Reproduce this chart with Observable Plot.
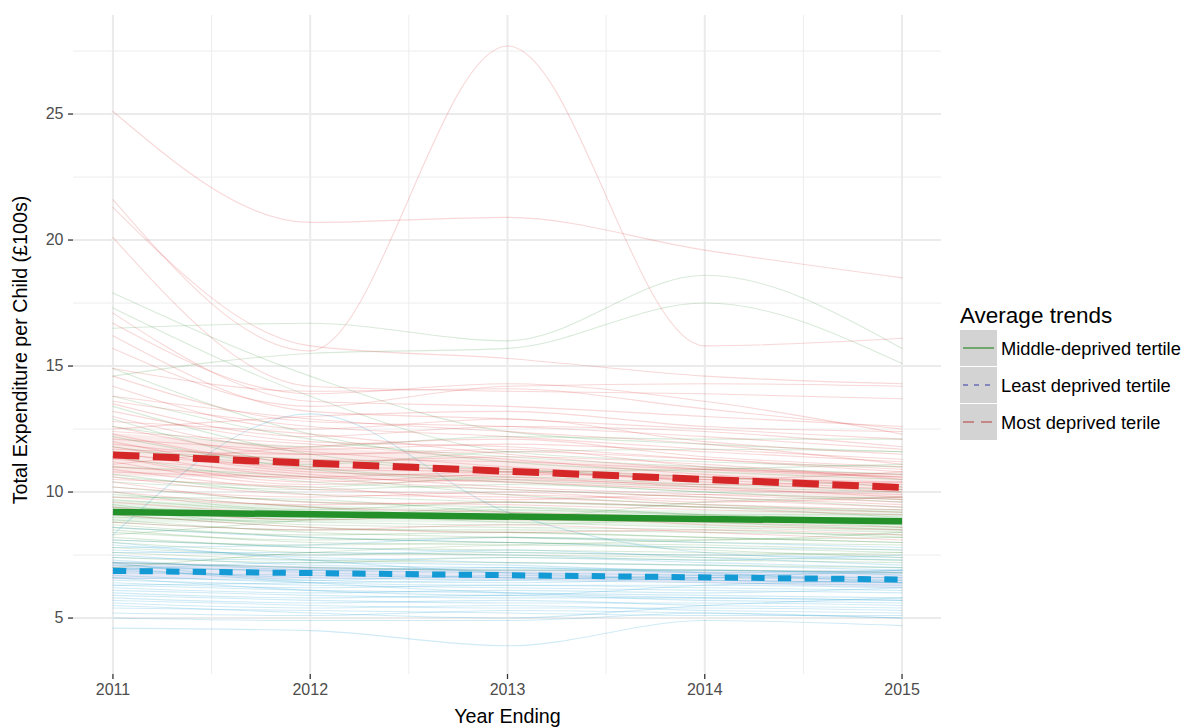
<!DOCTYPE html>
<html>
<head>
<meta charset="utf-8">
<script src="https://cdn.jsdelivr.net/npm/d3@7"></script>
<script src="https://cdn.jsdelivr.net/npm/@observablehq/plot@0.6"></script>
<style>
  html, body { margin: 0; padding: 0; background: #fff; }
  #wrap { position: relative; width: 1190px; height: 727px; font-family: "Liberation Sans", Arial, Helvetica, sans-serif; }
  #chart { position: absolute; left: 0; top: 0; }
  #legend { position: absolute; left: 0; top: 0; }
</style>
</head>
<body>
<div id="wrap">
  <div id="chart"></div>
  <svg id="legend" width="1190" height="727" style="pointer-events:none"></svg>
</div>
<script>
// ---- Data ----
const years = [2011, 2012, 2013, 2014, 2015];
const xTicks = [2011, 2012, 2013, 2014, 2015];
const yTicks = [5, 10, 15, 20, 25];
const xMinor = [2011.5, 2012.5, 2013.5, 2014.5];
const yMinor = [7.5, 12.5, 17.5, 22.5, 27.5];

// Most deprived tertile: per-authority values 2011..2015
const mostLines = [
  [25.1, 20.7, 20.9, 19.6, 18.5],
  [21.6, 15.6, 27.7, 15.8, 16.1],
  [21.3, 15.8, 15.3, 14.6, 14.3],
  [20.1, 14.2, 14.0, 13.9, 13.7],
  [17.1, 13.6, 13.4, 13.0, 12.6],
  [16.7, 13.9, 14.3, 13.6, 12.3],
  [16.2, 13.2, 12.9, 12.5, 12.1],
  [15.7, 13.4, 14.2, 14.3, 14.2],
  [14.9, 14.0, 14.1, 13.3, 12.5],
  [14.6, 12.8, 12.6, 12.2, 11.7],
  [14.2, 12.5, 12.9, 12.0, 11.5],
  [13.8, 12.9, 12.4, 11.9, 11.1],
  [13.5, 12.2, 12.6, 12.4, 11.8],
  [13.2, 12.0, 11.8, 11.3, 10.8],
  [13.0, 11.7, 11.9, 11.6, 11.2],
  [12.8, 12.3, 11.5, 10.9, 10.6],
  [12.6, 11.5, 11.6, 11.3, 10.9],
  [12.4, 11.9, 11.3, 10.7, 10.3],
  [12.3, 11.2, 11.4, 11.1, 10.5],
  [12.1, 11.6, 11.0, 10.6, 10.4],
  [12.0, 10.9, 10.8, 10.5, 10.1],
  [11.9, 11.3, 11.2, 10.9, 10.7],
  [11.8, 10.8, 10.6, 10.2, 9.8],
  [11.7, 11.5, 11.7, 11.0, 10.6],
  [11.6, 10.6, 10.4, 10.1, 9.9],
  [11.5, 11.0, 10.9, 10.4, 10.0],
  [11.4, 10.4, 10.7, 10.6, 10.2],
  [11.3, 10.7, 10.2, 9.9, 9.6],
  [11.2, 10.3, 10.5, 10.3, 10.4],
  [11.0, 10.5, 10.1, 9.8, 9.5],
  [10.9, 10.1, 9.9, 9.7, 9.4],
  [10.8, 10.6, 10.8, 10.5, 10.8],
  [10.6, 9.9, 9.8, 9.5, 9.3],
  [10.5, 10.2, 9.7, 9.9, 9.7],
  [10.4, 9.6, 9.5, 9.3, 9.1],
  [10.2, 9.8, 10.0, 9.6, 9.8],
  [10.0, 9.4, 9.2, 9.0, 8.8],
  [9.8, 9.5, 9.6, 9.4, 9.2],
  [9.6, 9.1, 8.9, 8.8, 8.6],
  [9.4, 8.9, 9.1, 8.7, 8.5],
  [9.1, 8.6, 8.4, 8.5, 8.3],
  [8.8, 8.5, 8.7, 8.4, 8.1],
  [12.5, 13.0, 13.2, 12.6, 12.4],
  [11.1, 11.8, 12.1, 11.4, 11.0],
  [13.6, 12.6, 12.2, 11.7, 11.3]
];

// Middle-deprived tertile
const middleLines = [
  [17.9, 14.6, 12.4, 11.9, 11.6],
  [17.3, 13.8, 11.6, 11.2, 11.0],
  [16.5, 16.7, 16.0, 18.6, 15.7],
  [14.6, 15.5, 15.7, 17.5, 15.1],
  [14.9, 12.3, 11.2, 10.8, 10.5],
  [13.4, 11.5, 10.9, 10.6, 10.2],
  [12.6, 11.8, 12.2, 12.1, 12.1],
  [12.2, 10.9, 10.4, 10.0, 9.7],
  [11.8, 11.1, 11.6, 11.7, 11.6],
  [11.4, 10.4, 10.1, 9.8, 9.4],
  [11.0, 10.6, 9.9, 9.5, 9.2],
  [10.7, 9.9, 9.6, 9.4, 9.3],
  [10.4, 10.1, 10.3, 10.0, 9.6],
  [10.2, 9.6, 9.4, 9.1, 8.9],
  [10.0, 9.3, 9.6, 9.4, 9.0],
  [9.8, 9.7, 9.2, 8.9, 8.7],
  [9.7, 9.2, 9.0, 8.8, 8.5],
  [9.5, 8.9, 9.1, 8.9, 8.8],
  [9.4, 9.1, 8.8, 8.6, 8.4],
  [9.3, 8.7, 8.6, 8.5, 8.2],
  [9.2, 9.0, 9.3, 9.1, 9.1],
  [9.1, 8.6, 8.4, 8.2, 8.0],
  [9.0, 8.8, 8.7, 8.9, 8.6],
  [8.9, 8.4, 8.2, 8.0, 7.9],
  [8.8, 8.5, 8.5, 8.4, 8.3],
  [8.7, 8.2, 8.0, 7.9, 7.7],
  [8.6, 8.3, 8.4, 8.2, 8.0],
  [8.5, 8.0, 7.9, 7.8, 7.6],
  [8.4, 8.1, 8.2, 8.1, 8.4],
  [8.2, 7.8, 7.7, 7.6, 7.5],
  [8.1, 7.9, 8.0, 7.7, 7.4],
  [8.0, 7.6, 7.5, 7.4, 7.3],
  [7.8, 7.5, 7.6, 7.5, 7.6],
  [7.6, 7.3, 7.2, 7.1, 7.0],
  [7.4, 7.2, 7.4, 7.3, 7.2],
  [7.2, 7.0, 6.9, 6.9, 6.8],
  [11.6, 11.3, 10.8, 10.9, 11.1],
  [10.6, 10.2, 10.6, 10.3, 10.1],
  [9.9, 9.4, 9.0, 9.6, 9.8],
  [12.9, 11.0, 10.5, 10.2, 10.0],
  [8.3, 8.9, 9.4, 9.1, 8.8],
  [7.0, 7.6, 7.9, 8.1, 8.2],
  [13.8, 12.1, 11.4, 11.0, 10.7]
];

// Least deprived tertile
const leastLines = [
  [8.6, 8.2, 8.0, 7.8, 7.7],
  [8.3, 13.1, 9.2, 7.6, 7.3],
  [8.1, 7.8, 7.6, 7.5, 7.4],
  [7.9, 7.5, 7.7, 7.4, 7.1],
  [7.7, 7.4, 7.2, 7.1, 6.9],
  [7.6, 7.6, 7.5, 7.3, 7.5],
  [7.5, 7.1, 7.0, 6.9, 6.8],
  [7.4, 7.3, 7.4, 7.2, 7.0],
  [7.3, 6.9, 6.8, 6.7, 6.6],
  [7.2, 7.0, 6.9, 6.9, 6.7],
  [7.1, 6.8, 6.6, 6.5, 6.4],
  [7.0, 6.9, 7.0, 6.8, 6.9],
  [6.9, 6.6, 6.5, 6.4, 6.3],
  [6.8, 6.7, 6.6, 6.6, 6.5],
  [6.7, 6.4, 6.3, 6.3, 6.2],
  [6.6, 6.5, 6.7, 6.5, 6.4],
  [6.5, 6.3, 6.2, 6.1, 6.0],
  [6.4, 6.2, 6.3, 6.2, 6.1],
  [6.3, 6.1, 6.0, 5.9, 5.8],
  [6.2, 6.0, 6.1, 6.0, 6.2],
  [6.1, 5.9, 5.8, 5.8, 5.7],
  [6.0, 5.8, 5.9, 5.7, 5.6],
  [5.9, 5.7, 5.6, 5.6, 5.5],
  [5.8, 5.6, 5.7, 5.5, 5.4],
  [5.7, 5.5, 5.4, 5.4, 5.3],
  [5.6, 5.4, 5.5, 5.3, 5.2],
  [5.4, 5.3, 5.2, 5.1, 5.1],
  [5.2, 5.1, 5.3, 5.2, 5.0],
  [5.0, 4.9, 4.9, 5.2, 5.0],
  [4.6, 4.5, 3.9, 4.9, 4.7],
  [8.0, 7.3, 6.8, 6.6, 6.6],
  [7.8, 7.9, 8.2, 8.0, 7.8],
  [6.6, 6.1, 5.9, 6.3, 6.5],
  [7.2, 6.5, 6.4, 6.6, 6.9],
  [5.5, 5.2, 5.0, 5.5, 5.8],
  [6.9, 7.2, 7.1, 6.8, 6.4],
  [7.0, 6.4, 6.0, 5.8, 5.7],
  [6.3, 6.4, 6.5, 6.7, 6.8]
];

// Average (linear) trends: endpoints 2011 and 2015
const trendYears = [2011, 2015];
const trendMost = [11.47, 10.18];
const trendMiddle = [9.21, 8.84];
const trendLeast = [6.87, 6.53];

// Confidence bands around trends at 2011, 2013, 2015
const bandYears = [2011, 2013, 2015];
const bandMostLow = [10.62, 10.33, 9.68];
const bandMostHigh = [12.32, 11.32, 10.70];
const bandMiddleLow = [8.76, 8.75, 8.40];
const bandMiddleHigh = [9.66, 9.30, 9.28];
const bandLeastLow = [6.52, 6.50, 6.18];
const bandLeastHigh = [7.22, 6.90, 6.88];

const legendTitle = "Average trends";
const legendLabels = ["Middle-deprived tertile", "Least deprived tertile", "Most deprived terile"];

// ---- Build tidy tables ----
function tidy(lines, group) {
  const out = [];
  lines.forEach((arr, i) => arr.forEach((v, j) => out.push({group, id: group + i, year: years[j], value: v})));
  return out;
}
const mostRows = tidy(mostLines, "most");
const middleRows = tidy(middleLines, "middle");
const leastRows = tidy(leastLines, "least");
const trendRows = (vals) => trendYears.map((y, i) => ({year: y, value: vals[i]}));
const bandRows = (lo, hi) => bandYears.map((y, i) => ({year: y, lo: lo[i], hi: hi[i]}));

const RED = "#d62728", GREEN = "#23902a", BLUE = "#149ad4";

const thin = {x: "year", y: "value", z: "id", curve: "monotone-x", strokeWidth: 1.1, strokeOpacity: 0.18};

const chart = Plot.plot({
  width: 950,
  height: 727,
  marginLeft: 73,
  marginRight: 9,
  marginTop: 15,
  marginBottom: 53,
  style: {fontFamily: '"Liberation Sans", Arial, Helvetica, sans-serif', background: "#fff"},
  x: {domain: [2010.8, 2015.2]},
  y: {domain: [2.76, 28.91]},
  marks: [
    Plot.gridY(yMinor, {stroke: "#ededed", strokeOpacity: 1, strokeWidth: 1}),
    Plot.gridX(xMinor, {stroke: "#ededed", strokeOpacity: 1, strokeWidth: 1}),
    Plot.gridY(yTicks, {stroke: "#ebebeb", strokeOpacity: 1, strokeWidth: 2}),
    Plot.gridX(xTicks, {stroke: "#ebebeb", strokeOpacity: 1, strokeWidth: 2}),
    Plot.areaY(bandRows(bandMostLow, bandMostHigh), {x: "year", y1: "lo", y2: "hi", curve: "natural", fill: RED, fillOpacity: 0.09}),
    Plot.areaY(bandRows(bandMiddleLow, bandMiddleHigh), {x: "year", y1: "lo", y2: "hi", curve: "natural", fill: "#228b22", fillOpacity: 0.09}),
    Plot.areaY(bandRows(bandLeastLow, bandLeastHigh), {x: "year", y1: "lo", y2: "hi", curve: "natural", fill: "#3a3ab0", fillOpacity: 0.11}),
    Plot.line(leastRows, {...thin, stroke: BLUE, strokeOpacity: 0.2}),
    Plot.line(middleRows, {...thin, stroke: "#2e8b2e"}),
    Plot.line(mostRows, {...thin, stroke: RED}),
    Plot.line(trendRows(trendMiddle), {x: "year", y: "value", stroke: GREEN, strokeWidth: 6.5, strokeLinecap: "butt"}),
    Plot.line(trendRows(trendLeast), {x: "year", y: "value", stroke: BLUE, strokeWidth: 6, strokeLinecap: "butt", strokeDasharray: "13.3,13.3"}),
    Plot.line(trendRows(trendMost), {x: "year", y: "value", stroke: RED, strokeWidth: 7, strokeLinecap: "butt", strokeDasharray: "26.5,13.5"}),
    Plot.axisX(xTicks, {tickFormat: "d", tickSize: 5, tickPadding: 4, fontSize: 16, label: null, stroke: "#333", fill: "#4d4d4d", strokeWidth: 1.3}),
    Plot.axisY(yTicks, {tickSize: 5, tickPadding: 5, fontSize: 16, label: null, stroke: "#333", fill: "#4d4d4d", strokeWidth: 1.3}),
    Plot.text(["Total Expenditure per Child (£100s)"], {text: d => d, frameAnchor: "left", textAnchor: "middle", rotate: -90, dx: -53, dy: 5, fontSize: 19.7, fill: "#000", lineAnchor: "middle"}),
    Plot.text(["Year Ending"], {text: d => d, frameAnchor: "bottom", textAnchor: "middle", dy: 42, fontSize: 19.7, fill: "#000", lineAnchor: "middle"})
  ]
});
document.getElementById("chart").appendChild(chart);

// ---- Legend ----
const lg = d3.select("#legend").style("font-family", '"Liberation Sans", Arial, Helvetica, sans-serif');
lg.append("text").attr("x", 960).attr("y", 315).attr("dominant-baseline", "central")
  .attr("font-size", 22.5).attr("fill", "#000").text(legendTitle);
const keyStyles = [
  {stroke: "#2e8b2e", dash: null},
  {stroke: "#3838a8", dash: "5,6"},
  {stroke: "#b83a3a", dash: "11,7"}
];
legendLabels.forEach((lab, i) => {
  const top = 330 + i * 37;
  lg.append("rect").attr("x", 960).attr("y", top).attr("width", 37).attr("height", 36).attr("fill", "#d3d3d3");
  const ln = lg.append("line").attr("x1", 963).attr("x2", 994).attr("y1", top + 18).attr("y2", top + 18)
    .attr("stroke", keyStyles[i].stroke).attr("stroke-width", 1.2);
  if (keyStyles[i].dash) ln.attr("stroke-dasharray", keyStyles[i].dash);
  lg.append("text").attr("x", 1001).attr("y", top + 18).attr("dominant-baseline", "central")
    .attr("font-size", 18.3).attr("fill", "#000").text(lab);
});
</script>
</body>
</html>
